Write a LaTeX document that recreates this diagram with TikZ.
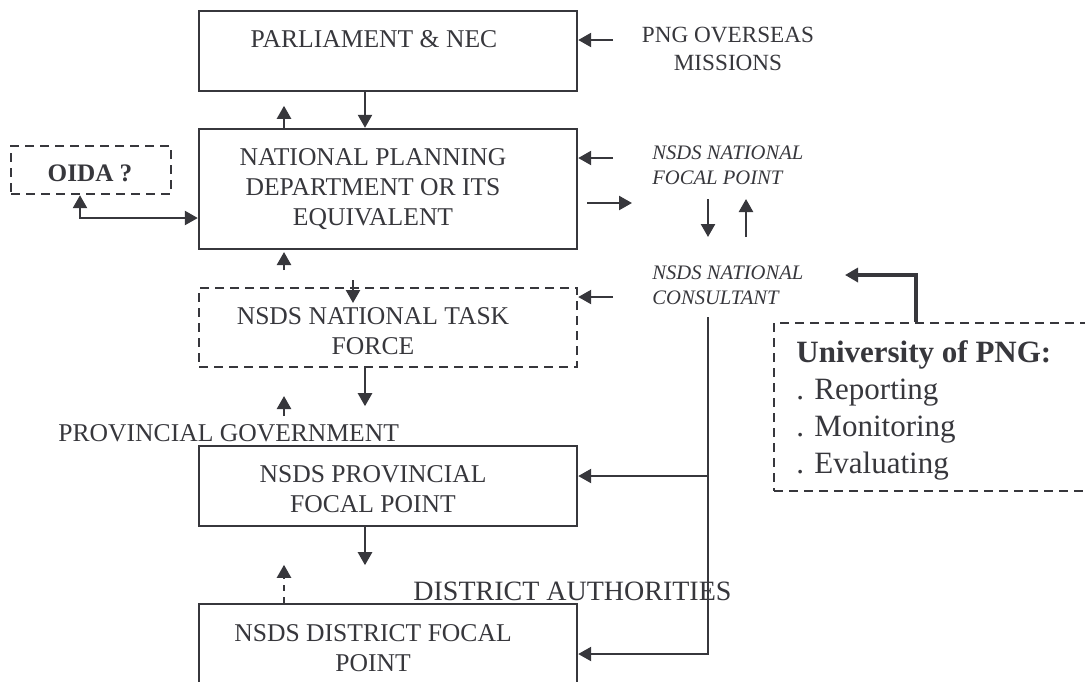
\documentclass[tikz,border=0pt]{standalone}
\usepackage{fontspec}
\setmainfont{Liberation Serif}
\usetikzlibrary{arrows.meta}
\definecolor{ink}{RGB}{55,55,60}

\tikzset{
  box/.style={draw=ink, line width=1.2pt, minimum width=189pt, inner sep=0pt},
  dbox/.style={box, dash pattern=on 4.5pt off 3pt},
  lbl/.style={text=ink, inner sep=0pt, align=center, font=\fontsize{12.8}{15.2}\selectfont},
  ital/.style={lbl, align=left, anchor=west, font=\fontsize{10.3}{12.5}\selectfont\itshape},
  arr/.style={draw=ink, line width=1.2pt, -{Triangle[length=6.5pt,width=7pt]}},
  darr/.style={arr, {Triangle[length=6.5pt,width=7pt]}-{Triangle[length=6.5pt,width=7pt]}},
  thickarr/.style={arr, line width=2pt},
}

\begin{document}
\begin{tikzpicture}[x=0.5pt, y=-0.5pt]
	\useasboundingbox (0,0) rectangle (1085,681);
	\clip (0,0) rectangle (1085,681);
	% boxes
	\node[box, minimum height=40pt] (parl) at (388,51) {};
	\node[box, minimum height=60pt] (npd) at (388,189) {};
	\node[dbox, minimum height=39.5pt] (task) at (388,327.5) {};
	\node[box, minimum height=40pt] (prov) at (388,486) {};
	\node[box, minimum height=50pt] (dist) at (388,654) {};
	\node[dbox, minimum width=80pt, minimum height=24pt] (oida) at (91,170) {};
	\node[dbox, minimum width=168pt, minimum height=84pt] (univ) at (942,407) {};
	% labels
	\node[lbl] (parlT) at (374,39) {PARLIAMENT \& NEC};
	\node[lbl] (npdT) at (373,189) {NATIONAL PLANNING\\DEPARTMENT OR ITS\\EQUIVALENT};
	\node[lbl] (taskT) at (373,331) {NSDS NATIONAL TASK\\FORCE};
	\node[lbl] (provT) at (373,489) {NSDS PROVINCIAL\\FOCAL POINT};
	\node[lbl] (distT) at (373,648) {NSDS DISTRICT FOCAL\\POINT};
	\node[lbl, font=\fontsize{12.6}{14}\selectfont\bfseries] (oidaT) at (90,173) {OIDA ?};
	\node[lbl, font=\fontsize{11.6}{14}\selectfont] (png) at (728,49) {PNG OVERSEAS\\MISSIONS};
	\node[ital] (nfp) at (652,165) {NSDS NATIONAL\\FOCAL POINT};
	\node[ital] (ncons) at (652,285) {NSDS NATIONAL\\CONSULTANT};
	\node[lbl, anchor=west] (provgov) at (58,433) {PROVINCIAL GOVERNMENT};
	\node[lbl, anchor=west, font=\fontsize{14}{15}\selectfont] (distauth) at (413,591) {DISTRICT AUTHORITIES};
	\node[lbl, anchor=west, align=left, font=\fontsize{15.5}{18.5}\selectfont] (univT) at (796,410)
		{\textbf{University of PNG:}\\. Reporting\\. Monitoring\\. Evaluating};
	% free ends
	\coordinate (pngA) at (613,40);
	\coordinate (s2) at (284,270);
	\coordinate (s3) at (353,280);
	\coordinate (s4) at (284,416);
	\coordinate (r1) at (613,158);
	\coordinate (r2) at (587,203);
	\coordinate (r3) at (708,199);
	\coordinate (r4) at (746,237);
	\coordinate (r5) at (613,297);
	\coordinate (u1) at (845,275);
	\coordinate (ctop) at (708,317);
	\coordinate (c2) at (708,476);
	% arrows, centre column
	\draw[arr] (pngA) -- (pngA -| parl.east);
	\draw[arr] ([xshift=-11.5pt]parl.south) -- ([xshift=-11.5pt]npd.north);
	\draw[arr] ([xshift=-52pt]npd.north) -- ++(0,-22);
	\draw[arr] (s2) -- ++(0,-18);
	\draw[arr] (s3) -- ++(0,23);
	\draw[arr] ([xshift=-11.5pt]task.south) -- ++(0,38);
	\draw[arr] (s4) -- ++(0,-20);
	\draw[arr] ([xshift=-11.5pt]prov.south) -- ++(0,38);
	\draw[arr, dashed] ([xshift=-52pt]dist.north) -- ++(0,-38);
	\draw[darr] ([xshift=-5.5pt]oida.south) |- ([yshift=-14.5pt]npd.west);
	% arrows, right side
	\draw[arr] (r1) -- (r1 -| npd.east);
	\draw[arr] (r2) -- ++(45,0);
	\draw[arr] (r3) -- ++(0,38);
	\draw[arr] (r4) -- ++(0,-38);
	\draw[arr] (r5) -- (r5 -| task.east);
	\draw[thickarr] ([xshift=-13pt]univ.north) |- (u1);
	\draw[arr] (ctop) |- (dist.east);
	\draw[arr] (c2) -- (c2 -| prov.east);
\end{tikzpicture}
\end{document}
